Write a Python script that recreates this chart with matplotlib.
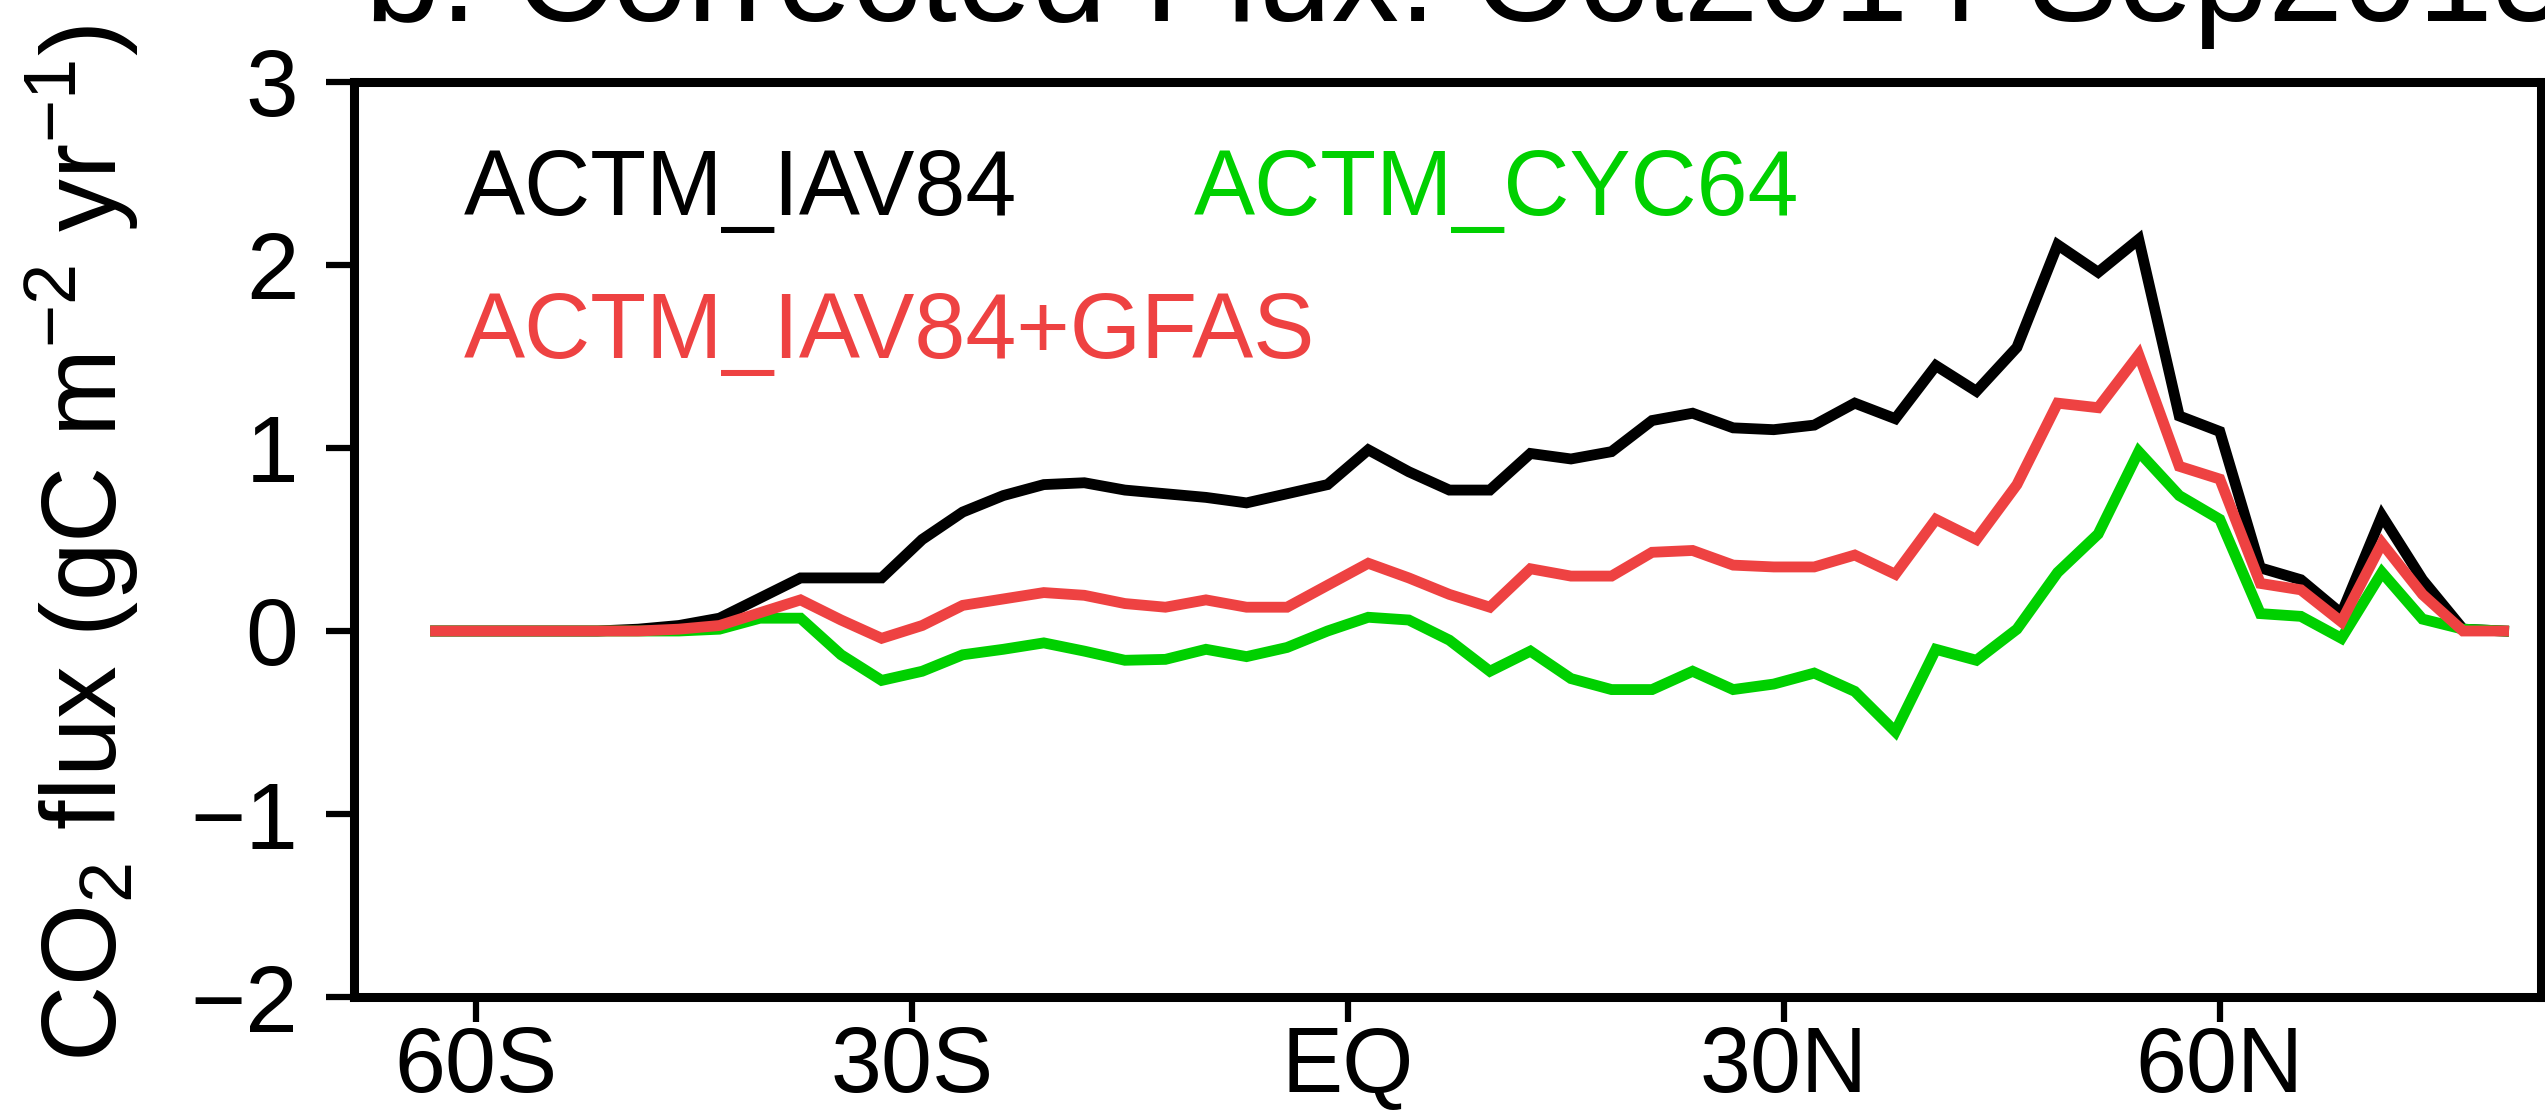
import matplotlib
matplotlib.use("Agg")
import matplotlib.pyplot as plt

# Latitudes of the model grid (T42 Gaussian rows) and zonal-mean corrected fluxes
lats = [-62.79, -60.00, -57.21, -54.42, -51.63, -48.84, -46.04, -43.25, -40.46,
        -37.67, -34.88, -32.09, -29.30, -26.51, -23.72, -20.93, -18.14, -15.35,
        -12.56, -9.77, -6.98, -4.19, -1.40, 1.40, 4.19, 6.98, 9.77, 12.56, 15.35,
        18.14, 20.93, 23.72, 26.51, 29.30, 32.09, 34.88, 37.67, 40.46, 43.25,
        46.04, 48.84, 51.63, 54.42, 57.21, 60.00, 62.79, 65.58, 68.37, 71.16,
        73.95, 76.74, 79.53]

iav84 = [0, 0, 0, 0, 0, 0.01, 0.03, 0.07, 0.18, 0.29, 0.29, 0.29, 0.50, 0.65,
         0.74, 0.80, 0.81, 0.77, 0.75, 0.73, 0.70, 0.75, 0.80, 0.99, 0.87, 0.77,
         0.77, 0.97, 0.94, 0.98, 1.15, 1.19, 1.11, 1.10, 1.125, 1.245, 1.16, 1.45,
         1.31, 1.55, 2.11, 1.96, 2.14, 1.175, 1.09, 0.345, 0.28, 0.095, 0.63,
         0.28, 0.01, 0]

iav84_gfas = [0, 0, 0, 0, 0, 0, 0.01, 0.03, 0.10, 0.17, 0.06, -0.04, 0.03, 0.14,
              0.175, 0.21, 0.195, 0.15, 0.13, 0.17, 0.13, 0.13, 0.25, 0.37, 0.29,
              0.20, 0.13, 0.34, 0.30, 0.30, 0.43, 0.44, 0.36, 0.35, 0.35, 0.415,
              0.31, 0.61, 0.50, 0.80, 1.245, 1.22, 1.51, 0.90, 0.83, 0.26, 0.225,
              0.05, 0.48, 0.20, 0, 0]

cyc64 = [0, 0, 0, 0, 0, 0, 0, 0.01, 0.07, 0.07, -0.13, -0.27, -0.22, -0.13,
         -0.10, -0.065, -0.11, -0.16, -0.155, -0.10, -0.14, -0.09, 0.0, 0.075,
         0.06, -0.05, -0.22, -0.11, -0.26, -0.32, -0.32, -0.22, -0.32, -0.29,
         -0.23, -0.33, -0.55, -0.10, -0.16, 0.01, 0.32, 0.53, 0.98, 0.74, 0.61,
         0.095, 0.08, -0.04, 0.32, 0.065, 0.01, 0]

xticks = [-60, -30, 0, 30, 60]
xticklabels = ["60S", "30S", "EQ", "30N", "60N"]
yticks = [-2, -1, 0, 1, 2, 3]

plt.rcParams["font.family"] = ["Liberation Sans", "DejaVu Sans"]
plt.rcParams["mathtext.fontset"] = "custom"
plt.rcParams["mathtext.rm"] = "Liberation Sans"
plt.rcParams["mathtext.it"] = "Liberation Sans"

black = "black"
red = "#EE4242"
green = "#00D000"

fig = plt.figure(figsize=(25.45, 11.18), dpi=100)
ax = fig.add_axes([0.1391, 0.1082, 0.8593, 0.8185])

ax.plot(lats, iav84, color=black, lw=7.8, solid_joinstyle="miter")
ax.plot(lats, cyc64, color=green, lw=7.8, solid_joinstyle="miter")
ax.plot(lats, iav84_gfas, color=red, lw=7.8, solid_joinstyle="miter")

ax.set_xlim(-68.4, 82.1)
ax.set_ylim(-2, 3)
ax.set_xticks(xticks)
ax.set_xticklabels(xticklabels)
ax.set_yticks(yticks)

for s in ax.spines.values():
    s.set_linewidth(6.5)
ax.tick_params(axis="x", direction="out", length=18, width=4.5, pad=2,
               labelsize=66)
ax.tick_params(axis="y", direction="out", length=20, width=4.5, pad=20,
               labelsize=68)

# in-panel legend text
ax.text(0.0503, 0.8546, "ACTM_IAV84", color=black, fontsize=66,
        transform=ax.transAxes, va="baseline")
ax.text(0.384, 0.8546, "ACTM_CYC64", color=green, fontsize=66,
        transform=ax.transAxes, va="baseline")
ax.text(0.0503, 0.698, "ACTM_IAV84+GFAS", color=red, fontsize=66,
        transform=ax.transAxes, va="baseline")

fig.text(0.0326, 0.514, r"CO$_\mathrm{2}$ flux (gC m$^\mathrm{-2}$ yr$^\mathrm{-1}$)",
         rotation=90, ha="center", va="center", fontsize=76)

fig.text(0.1434, 0.9812, "b. Corrected Flux: Oct2014-Sep2015", fontsize=97,
         va="baseline", ha="left")

fig.savefig("out.png", dpi=100)
